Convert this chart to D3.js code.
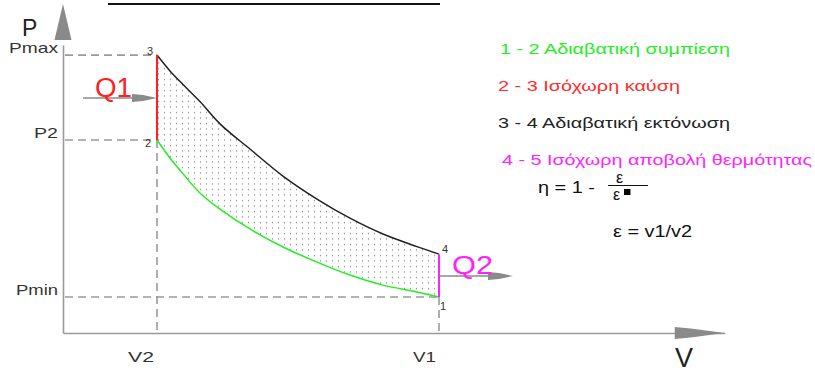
<!DOCTYPE html>
<html>
<head>
<meta charset="utf-8">
<script src="https://cdn.jsdelivr.net/npm/d3@7/dist/d3.min.js"></script>
<style>
  html, body { margin: 0; padding: 0; background: #fff; }
  svg { display: block; font-family: "Liberation Sans", Arial, sans-serif; }
</style>
</head>
<body>
<svg id="chart" width="815" height="373"></svg>
<script>
// Otto cycle, P–V diagram (volume in units of V2, pressure in units of Pmin)
const stateNames = ["1", "2", "3", "4"];
const stateV = [4.0, 1.0, 1.0, 4.0];
const stateP = [1.0, 5.36, 7.72, 2.19];

// 1 → 2 adiabatic compression
const compressionV = [1.0, 1.138, 1.277, 1.457, 1.670, 1.989, 2.340, 2.702, 3.053, 3.404, 3.766, 4.0];
const compressionP = [5.36, 4.86, 4.42, 3.89, 3.44, 2.89, 2.39, 1.97, 1.61, 1.33, 1.14, 1.0];

// 3 → 4 adiabatic expansion
const expansionV = [1.0, 1.138, 1.277, 1.457, 1.670, 1.989, 2.340, 2.702, 3.053, 3.404, 3.766, 4.0];
const expansionP = [7.72, 7.28, 6.90, 6.43, 5.81, 5.11, 4.36, 3.72, 3.19, 2.75, 2.40, 2.19];

const pTickLabels = ["Pmax", "P2", "Pmin"];
const pTickValues = [7.72, 5.36, 1.0];
const pTickWidths = [49, 24, 42];
const vTickLabels = ["V2", "V1"];
const vTickValues = [1.0, 4.0];
const vTickWidths = [26, 23];

const legendLabels = [
  "1 - 2 Αδιαβατική  συμπίεση",
  "2 - 3 Ισόχωρη καύση",
  "3 - 4 Αδιαβατική εκτόνωση",
  "4 - 5 Ισόχωρη αποβολή θερμότητας"
];
const legendColors = ["#22ee22", "#ff2a2a", "#222222", "#ff22ff"];

const svg = d3.select("#chart");

const x = d3.scaleLinear().domain([0, 4]).range([63, 439]);
const y = d3.scaleLinear().domain([0, 1]).range([333, 297]);

const x0 = x(0), y0 = y(0);
const axisColor = "#9a9a9a";
const xEnd = x(7.04), yEnd = y(9.14);

// dotted hatch for the work area
const defs = svg.append("defs");
const pat = defs.append("pattern")
  .attr("id", "dots").attr("patternUnits", "userSpaceOnUse")
  .attr("width", 6).attr("height", 5.5);
pat.append("circle").attr("cx", 2.5).attr("cy", 2.5).attr("r", 0.65).attr("fill", "#777");

// heading underline (heading itself sits above the frame)
svg.append("line").attr("x1", 108).attr("x2", 440).attr("y1", 4).attr("y2", 4)
  .attr("stroke", "#111").attr("stroke-width", 2);

// axes
const xAxisScale = d3.scaleLinear().domain([0, 7.04]).range([x0, xEnd]);
svg.append("g").attr("transform", `translate(0,${y0})`)
  .call(d3.axisBottom(xAxisScale).tickValues([]).tickSizeOuter(0))
  .call(g => g.select(".domain").attr("stroke", axisColor).attr("stroke-width", 1.6));
const yAxisScale = d3.scaleLinear().domain([0, 8.0]).range([y0, y(8.0)]);
svg.append("g").attr("transform", `translate(${x0},0)`)
  .call(d3.axisLeft(yAxisScale).tickValues([]).tickSizeOuter(0))
  .call(g => g.select(".domain").attr("stroke", axisColor).attr("stroke-width", 1.6));

// arrow heads
svg.append("path")
  .attr("d", `M${xEnd - 50},${y0 - 6} L${xEnd - 34},${y0 - 4.5} L${xEnd},${y0} L${xEnd - 34},${y0 + 4.5} L${xEnd - 50},${y0 + 6} Z`)
  .attr("fill", "#8a8a8a");
svg.append("path")
  .attr("d", `M${x0},${yEnd} L${x0 + 8.5},${yEnd + 36} L${x0 - 8.5},${yEnd + 36} Z`)
  .attr("fill", "#8a8a8a");

// dashed guide lines
const dash = "8,5";
const guides = svg.append("g").attr("stroke", "#9a9a9a").attr("stroke-width", 1.6)
  .attr("stroke-dasharray", dash).attr("fill", "none");
guides.append("line").attr("x1", x0 + 2).attr("x2", x(1)).attr("y1", y(pTickValues[0])).attr("y2", y(pTickValues[0]));
guides.append("line").attr("x1", x0 + 2).attr("x2", x(1)).attr("y1", y(pTickValues[1])).attr("y2", y(pTickValues[1]));
guides.append("line").attr("x1", x0 + 2).attr("x2", x(4)).attr("y1", y(pTickValues[2])).attr("y2", y(pTickValues[2]));
guides.append("line").attr("x1", x(1)).attr("x2", x(1)).attr("y1", y(stateP[1])).attr("y2", y0);
guides.append("line").attr("x1", x(4)).attr("x2", x(4)).attr("y1", y(stateP[0])).attr("y2", y0);

// curves
const comp = compressionV.map((v, i) => [v, compressionP[i]]).sort((a, b) => a[0] - b[0]);
const expn = expansionV.map((v, i) => [v, expansionP[i]]);
const smooth = d3.line().x(d => x(d[0])).y(d => y(d[1])).curve(d3.curveCatmullRom.alpha(0.5));
const fillPath = smooth(expn) + "L" + smooth(comp.slice().reverse()).substring(1) + "Z";
svg.append("path").attr("d", fillPath).attr("fill", "url(#dots)").attr("stroke", "none");

svg.append("path").attr("d", smooth(comp))
  .attr("fill", "none").attr("stroke", "#22ee22").attr("stroke-width", 1.5);
svg.append("path").attr("d", smooth(expn))
  .attr("fill", "none").attr("stroke", "#222").attr("stroke-width", 1.5);
// isochoric segments
svg.append("line").attr("x1", x(stateV[1])).attr("x2", x(stateV[2]))
  .attr("y1", y(stateP[1])).attr("y2", y(stateP[2]))
  .attr("stroke", "#ff2020").attr("stroke-width", 2);
svg.append("line").attr("x1", x(stateV[3])).attr("x2", x(stateV[0]))
  .attr("y1", y(stateP[3])).attr("y2", y(stateP[0]))
  .attr("stroke", "#ff20ff").attr("stroke-width", 2);

// state numbers
const stateOffsets = [[1, 13], [-12, 7], [-10, 0], [3, -1]];
svg.append("g").selectAll("text").data(stateNames).join("text")
  .attr("x", (d, i) => x(stateV[i]) + stateOffsets[i][0])
  .attr("y", (d, i) => y(stateP[i]) + stateOffsets[i][1])
  .attr("font-size", 11).attr("fill", "#333").text(d => d);

// axis titles and tick labels
svg.append("text").attr("x", 22).attr("y", 36).attr("font-size", 23).attr("fill", "#222").text("P");
svg.append("text").attr("x", 675).attr("y", 367).attr("font-size", 27).attr("fill", "#222").text("V");
svg.append("g").selectAll("text").data(pTickLabels).join("text")
  .attr("x", (d, i) => 58 - pTickWidths[i]).attr("y", (d, i) => y(pTickValues[i]) - 2)
  .attr("font-size", 15).attr("fill", "#333")
  .attr("textLength", (d, i) => pTickWidths[i]).attr("lengthAdjust", "spacingAndGlyphs")
  .text(d => d);
svg.append("g").selectAll("text").data(vTickLabels).join("text")
  .attr("x", (d, i) => x(vTickValues[i]) - 3 - vTickWidths[i]).attr("y", 362)
  .attr("font-size", 15).attr("fill", "#333")
  .attr("textLength", (d, i) => vTickWidths[i]).attr("lengthAdjust", "spacingAndGlyphs")
  .text(d => d);

// heat arrows
function heatArrow(xa, xb, yy) {
  svg.append("line").attr("x1", xa).attr("x2", xb - 20).attr("y1", yy).attr("y2", yy)
    .attr("stroke", "#8a8a8a").attr("stroke-width", 1.6);
  svg.append("path")
    .attr("d", `M${xb - 25},${yy - 4} L${xb - 14},${yy - 3} L${xb},${yy} L${xb - 14},${yy + 3} L${xb - 25},${yy + 4} Z`)
    .attr("fill", "#8a8a8a");
}
heatArrow(83, x(1), 98);
heatArrow(x(4), 513, 276);
svg.append("text").attr("x", 95).attr("y", 97).attr("font-size", 27).attr("fill", "#ff2020")
  .attr("textLength", 37).attr("lengthAdjust", "spacingAndGlyphs").text("Q1");
svg.append("text").attr("x", 452).attr("y", 274).attr("font-size", 26).attr("fill", "#ff20ff")
  .attr("textLength", 41).attr("lengthAdjust", "spacingAndGlyphs").text("Q2");

// legend
const legendX = [500, 498, 498, 502];
const legendY = [54, 91, 128, 165];
const legendW = [230, 182, 232, 310];
svg.append("g").selectAll("text").data(legendLabels).join("text")
  .attr("x", (d, i) => legendX[i]).attr("y", (d, i) => legendY[i])
  .attr("font-size", 15.5).attr("fill", (d, i) => legendColors[i])
  .attr("textLength", (d, i) => legendW[i]).attr("lengthAdjust", "spacingAndGlyphs")
  .text(d => d);

// efficiency formula
const f = svg.append("g").attr("fill", "#111").attr("font-size", 16);
f.append("text").attr("x", 538).attr("y", 193).attr("textLength", 57).attr("lengthAdjust", "spacingAndGlyphs").text("η = 1 -");
f.append("text").attr("x", 616).attr("y", 183).text("ε");
f.append("line").attr("x1", 608).attr("x2", 648).attr("y1", 185.5).attr("y2", 185.5).attr("stroke", "#111").attr("stroke-width", 1.2);
f.append("text").attr("x", 613).attr("y", 200).text("ε");
f.append("rect").attr("x", 624).attr("y", 189).attr("width", 6.5).attr("height", 6).attr("fill", "#000");
f.append("text").attr("x", 613).attr("y", 237).attr("textLength", 79).attr("lengthAdjust", "spacingAndGlyphs").text("ε = v1/v2");
</script>
</body>
</html>
